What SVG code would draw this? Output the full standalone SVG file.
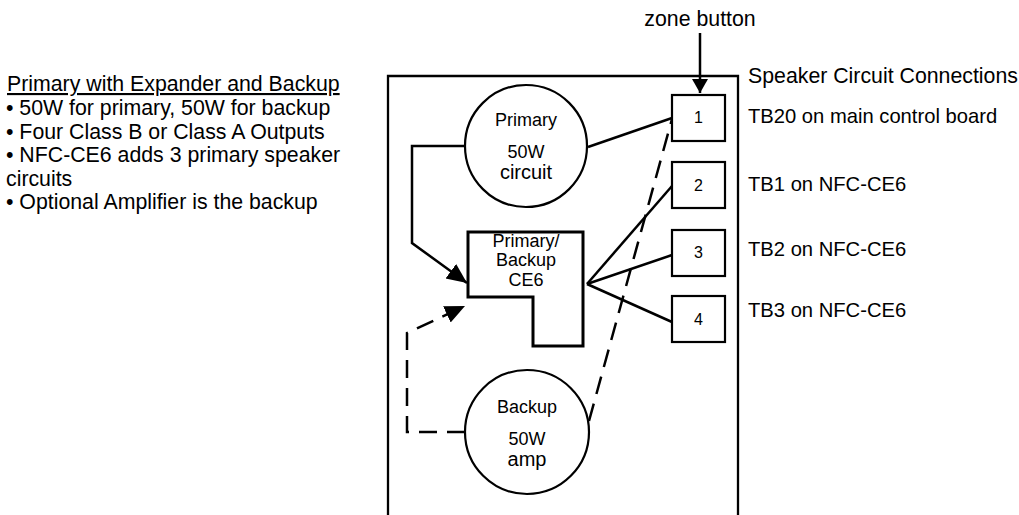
<svg xmlns="http://www.w3.org/2000/svg" width="1019" height="515" viewBox="0 0 1019 515">
<style>
text{font-family:"Liberation Sans",Arial,sans-serif;fill:#000}
.big{font-size:21.3px}
.rt{font-size:20.2px}
.lbl{font-size:18px;text-anchor:middle}
.lbl2{font-size:20px;text-anchor:middle}
.num{font-size:16px;text-anchor:middle}
.shape{fill:#fff;stroke:#000;stroke-width:2.2}
.thick{fill:#fff;stroke:#000;stroke-width:3}
.wire{fill:none;stroke:#000;stroke-width:2.5}
.dash{fill:none;stroke:#000;stroke-width:2.5;stroke-dasharray:18 10}
</style>
<defs>
<marker id="ah" markerUnits="userSpaceOnUse" markerWidth="22" markerHeight="20" refX="20" refY="9" orient="auto">
<path d="M0,0 L20,9 L0,18 z" fill="#000"/>
</marker>
<marker id="ahs" markerUnits="userSpaceOnUse" markerWidth="16" markerHeight="18" refX="14" refY="8" orient="auto">
<path d="M0,0 L14,8 L0,16 z" fill="#000"/>
</marker>
</defs>
<g id="notes">
<text class="big" x="7" y="91" text-decoration="underline">Primary with Expander and Backup</text>
<text class="big" x="6" y="115">• 50W for primary, 50W for backup</text>
<text class="big" x="6" y="139">• Four Class B or Class A Outputs</text>
<text class="big" x="6" y="162">• NFC-CE6 adds 3 primary speaker</text>
<text class="big" x="6" y="186">circuits</text>
<text class="big" x="6" y="209">• Optional Amplifier is the backup</text>
</g>
<g id="panel">
<path d="M388,520 V76 H738 V520" fill="none" stroke="#000" stroke-width="2.3"/>
</g>
<g id="zone-label">
<text class="big" x="700" y="26" text-anchor="middle">zone button</text>
</g>
<g id="right-labels">
<text class="big" x="748" y="83">Speaker Circuit Connections</text>
<text class="rt" x="748" y="123">TB20 on main control board</text>
<text class="rt" x="748" y="191">TB1 on NFC-CE6</text>
<text class="rt" x="748" y="256">TB2 on NFC-CE6</text>
<text class="rt" x="748" y="317">TB3 on NFC-CE6</text>
</g>
<g id="connectors">
<path class="wire" d="M464,146 H412 V243 L467,283" marker-end="url(#ah)"/>
<path class="dash" d="M465,432 H407 V333 L465,306" marker-end="url(#ah)"/>
<path class="wire" d="M700,33 V93" marker-end="url(#ahs)"/>
<path class="wire" d="M588,147 L672,118"/>
<path class="dash" d="M589,421 L672,119"/>
<path class="wire" d="M587,284 L672,186"/>
<path class="wire" d="M587,284 L672,255"/>
<path class="wire" d="M587,284 L672,322"/>
</g>
<g id="primary">
<circle class="shape" cx="526" cy="146" r="61"/>
<text class="lbl" x="526" y="126">Primary</text>
<text class="lbl" x="526" y="158">50W</text>
<text class="lbl2" x="526" y="179">circuit</text>
</g>
<g id="ce6">
<path class="thick" d="M468,232 H583 V346 H533 V297 H468 Z"/>
<text class="lbl" x="526" y="247">Primary/</text>
<text class="lbl" x="526" y="266">Backup</text>
<text class="lbl" x="526" y="286">CE6</text>
</g>
<g id="backup">
<circle class="shape" cx="527" cy="432" r="62"/>
<text class="lbl" x="527" y="413">Backup</text>
<text class="lbl" x="527" y="445">50W</text>
<text class="lbl2" x="527" y="466">amp</text>
</g>
<g id="tb1"><rect class="shape" x="672" y="95" width="53" height="46"/><text class="num" x="698.5" y="123">1</text></g>
<g id="tb2"><rect class="shape" x="672" y="162" width="53" height="46"/><text class="num" x="698.5" y="191">2</text></g>
<g id="tb3"><rect class="shape" x="672" y="230" width="53" height="46"/><text class="num" x="698.5" y="258">3</text></g>
<g id="tb4"><rect class="shape" x="672" y="296" width="53" height="46"/><text class="num" x="698.5" y="325">4</text></g>
</svg>
